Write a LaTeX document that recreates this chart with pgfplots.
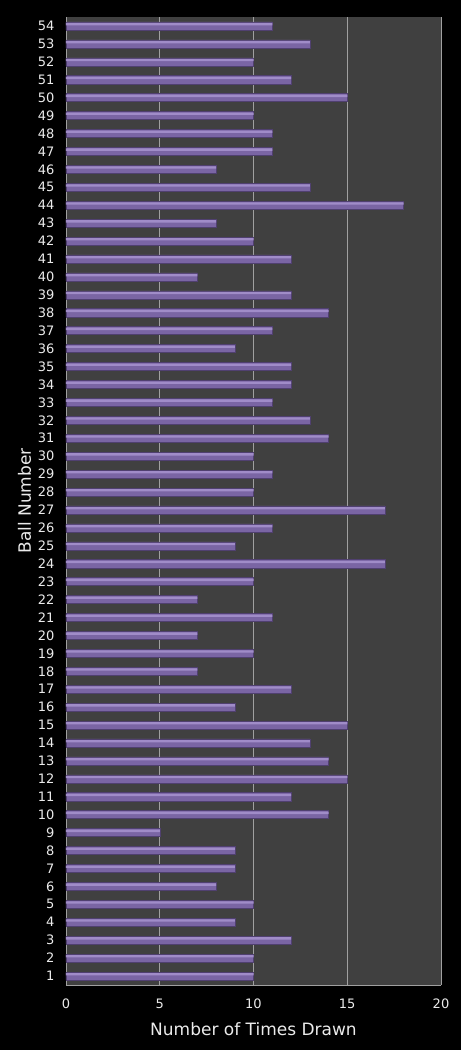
\documentclass[border=0pt]{standalone}
\usepackage{pgfplots}
\pgfplotsset{compat=1.18}
\usepackage{fontspec}
\setmainfont{DejaVu Sans}
\usetikzlibrary{backgrounds}

\definecolor{plotbg}{RGB}{64,64,64}
\definecolor{gridgray}{RGB}{160,160,160}
\definecolor{barlight}{RGB}{160,140,200}
\definecolor{barmid}{RGB}{122,101,164}
\definecolor{bardark}{RGB}{80,64,112}
\definecolor{labelwhite}{RGB}{235,235,235}

% ball number -> times drawn
\pgfplotstableread{
ball count
1 10
2 10
3 12
4 9
5 10
6 8
7 9
8 9
9 5
10 14
11 12
12 15
13 14
14 13
15 15
16 9
17 12
18 7
19 10
20 7
21 11
22 7
23 10
24 17
25 9
26 11
27 17
28 10
29 11
30 10
31 14
32 13
33 11
34 12
35 12
36 9
37 11
38 14
39 12
40 7
41 12
42 10
43 8
44 18
45 13
46 8
47 11
48 11
49 10
50 15
51 12
52 10
53 13
54 11
}\draws

\begin{document}
\begin{tikzpicture}
\begin{axis}[
    xbar,
    scale only axis,
    width=375pt,
    height=968pt,
    xmin=0, xmax=20,
    ymin=0.5, ymax=54.5,
    xtick={0,5,10,15,20},
    ytick={1,...,54},
    major tick length=0pt,
    xmajorgrids,
    grid style={gridgray, line width=0.8pt},
    axis x line*=bottom,
    axis y line*=left,
    axis line style={gridgray, line width=0.8pt, -},
    axis background/.style={fill=plotbg},
    tick label style={font=\fontsize{13}{14}\selectfont, labelwhite},
    /pgf/number format/assume math mode=true,
    yticklabel style={xshift=-8pt},
    xticklabel style={yshift=-10pt},
    xlabel={Number of Times Drawn},
    ylabel={Ball Number},
    label style={font=\fontsize{17}{19}\selectfont, labelwhite},
    xlabel style={yshift=-7pt},
    ylabel style={yshift=0pt},
]
% main bar body
\addplot[draw=bardark, line width=0.5pt, fill=barmid, bar width=0.45, bar shift=0]
    table[x=count, y=ball] {\draws};
% lighter top highlight of each bar
\addplot[draw=none, fill=barlight, bar width=0.13, bar shift=0.1]
    table[x=count, y=ball] {\draws};
\end{axis}
\begin{scope}[on background layer]
\fill[black] (-66pt,-65pt) rectangle (395pt,985pt);
\end{scope}
\useasboundingbox (-66pt,-65pt) rectangle (395pt,985pt);
\end{tikzpicture}
\end{document}
